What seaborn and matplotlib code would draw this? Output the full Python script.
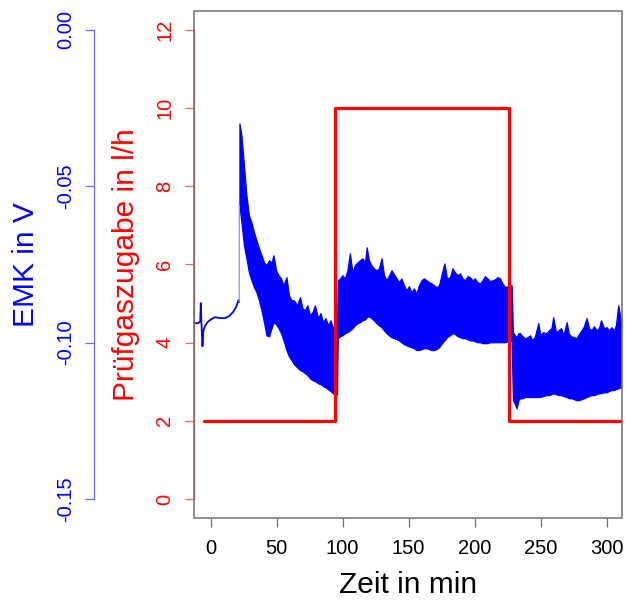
import matplotlib
matplotlib.use("Agg")
import matplotlib.pyplot as plt
from matplotlib.patches import Rectangle
import numpy as np
import pandas as pd
import seaborn as sns

sns.set_theme(style="white")
plt.rcParams["font.family"] = ["Liberation Sans", "DejaVu Sans"]
plt.rcParams["axes.unicode_minus"] = False

# Prüfgaszugabe (test gas feed) in l/h, step profile
gas_t = [-5.0, 94.5, 226.2, 315.0]
gas_rate = [2, 10, 2, 2]

# EMK before the gas switch-on: single slow trace (min, V)
emk0_t = [-12.1, -9.6, -7.9, -7.5, -7.0, -6.2, -5.5, -4.3, -2.4, 0.2, 3.3, 7.0,
          10.8, 13.9, 16.9, 19.2, 21.1, 21.6]
emk0_v = [-0.0938, -0.0938, -0.0932, -0.0874, -0.0935, -0.1012, -0.0961, -0.0948,
          -0.0935, -0.0926, -0.0919, -0.0922, -0.0922, -0.0916, -0.0903, -0.0887,
          -0.0865, -0.0871]

# sparse samples across the jump at switch-on
jump_t = [21.6, 21.7]
jump_v = [-0.0871, -0.0562]

# EMK noise band, phase 1 (2 l/h): time, upper and lower envelope
emk1_t = [21.8, 23.3, 25.2, 27.1, 29.0, 30.9, 32.8, 34.7, 36.6, 38.5, 40.4, 42.3,
          44.2, 46.1, 47.6, 49.5, 51.4, 53.3, 55.2, 57.4, 59.3, 61.2, 63.1, 65.4,
          67.7, 69.5, 71.4, 73.3, 75.2, 77.1, 79.0, 81.3, 83.2, 85.1, 87.0, 88.9,
          90.8, 92.7, 94.5, 95.7]
emk1_hi = [-0.0300, -0.0338, -0.0434, -0.0530, -0.0594, -0.0616, -0.0648, -0.0673,
           -0.0699, -0.0721, -0.0744, -0.0753, -0.0737, -0.0744, -0.0721, -0.0769,
           -0.0785, -0.0795, -0.0817, -0.0791, -0.0849, -0.0865, -0.0865, -0.0881,
           -0.0855, -0.0890, -0.0897, -0.0881, -0.0913, -0.0903, -0.0881, -0.0922,
           -0.0906, -0.0935, -0.0922, -0.0945, -0.0929, -0.0954, -0.0945, -0.0961]
emk1_lo = [-0.0562, -0.0616, -0.0689, -0.0731, -0.0776, -0.0801, -0.0823, -0.0839,
           -0.0865, -0.0897, -0.0935, -0.0977, -0.0980, -0.0954, -0.0935, -0.0941,
           -0.0954, -0.0970, -0.0993, -0.1024, -0.1044, -0.1056, -0.1069, -0.1079,
           -0.1088, -0.1091, -0.1098, -0.1104, -0.1114, -0.1120, -0.1123, -0.1130,
           -0.1133, -0.1139, -0.1143, -0.1149, -0.1155, -0.1162, -0.1168, -0.1165]

# EMK noise band, phase 2 (10 l/h)
emk2_t = [96.3, 98.0, 99.8, 101.7, 103.6, 105.5, 107.4, 109.3, 111.2, 113.1, 115.0,
          116.9, 118.2, 119.9, 121.8, 123.7, 125.6, 127.5, 129.5, 131.3, 133.2,
          135.1, 137.0, 138.9, 140.8, 142.7, 144.5, 146.4, 148.3, 150.2, 152.1,
          154.0, 155.9, 157.8, 159.7, 161.6, 163.5, 165.4, 167.3, 169.2, 171.1,
          173.0, 174.8, 177.1, 179.0, 181.3, 183.2, 185.1, 187.0, 188.9, 190.8,
          192.7, 194.5, 196.4, 198.3, 200.2, 202.1, 204.0, 205.9, 207.8, 209.7,
          211.6, 213.5, 215.4, 217.3, 219.2, 221.1, 223.0, 224.8, 226.7, 228.0]
emk2_hi = [-0.0801, -0.0795, -0.0785, -0.0795, -0.0769, -0.0715, -0.0776, -0.0753,
           -0.0744, -0.0737, -0.0731, -0.0744, -0.0696, -0.0737, -0.0753, -0.0763,
           -0.0769, -0.0763, -0.0731, -0.0785, -0.0801, -0.0785, -0.0769, -0.0782,
           -0.0795, -0.0807, -0.0795, -0.0817, -0.0833, -0.0820, -0.0839, -0.0827,
           -0.0843, -0.0817, -0.0801, -0.0795, -0.0801, -0.0807, -0.0811, -0.0817,
           -0.0823, -0.0817, -0.0785, -0.0747, -0.0795, -0.0791, -0.0763, -0.0776,
           -0.0785, -0.0779, -0.0795, -0.0801, -0.0788, -0.0791, -0.0801, -0.0795,
           -0.0807, -0.0811, -0.0801, -0.0788, -0.0795, -0.0804, -0.0801, -0.0798,
           -0.0791, -0.0795, -0.0811, -0.0823, -0.0820, -0.0817, -0.0817]
emk2_lo = [-0.0986, -0.0980, -0.0977, -0.0970, -0.0967, -0.0961, -0.0954, -0.0945,
           -0.0938, -0.0935, -0.0929, -0.0926, -0.0919, -0.0916, -0.0922, -0.0929,
           -0.0938, -0.0945, -0.0951, -0.0961, -0.0970, -0.0977, -0.0983, -0.0986,
           -0.0989, -0.0993, -0.0999, -0.1005, -0.1009, -0.1012, -0.1015, -0.1018,
           -0.1024, -0.1024, -0.1021, -0.1018, -0.1018, -0.1021, -0.1024, -0.1024,
           -0.1021, -0.1015, -0.1005, -0.0993, -0.0983, -0.0977, -0.0970, -0.0973,
           -0.0980, -0.0983, -0.0986, -0.0986, -0.0989, -0.0993, -0.0993, -0.0996,
           -0.0999, -0.0999, -0.1002, -0.1002, -0.1002, -0.0999, -0.0999, -0.0999,
           -0.0999, -0.0999, -0.0999, -0.0999, -0.0996, -0.0993, -0.0996]

# EMK noise band, phase 3 (back to 2 l/h)
emk3_t = [229.0, 230.5, 231.8, 233.2, 234.3, 236.2, 238.1, 240.0, 241.9, 243.8,
          245.7, 248.2, 249.8, 251.7, 254.4, 256.3, 258.2, 259.5, 261.6, 263.5,
          265.4, 267.3, 269.7, 271.4, 273.3, 275.2, 277.1, 279.0, 280.9, 282.8,
          284.8, 286.6, 288.5, 290.4, 292.3, 294.2, 295.7, 298.0, 300.0, 301.7,
          303.6, 305.5, 307.0, 308.8, 310.8]
emk3_hi = [-0.0967, -0.0977, -0.0983, -0.0970, -0.0970, -0.0980, -0.0986, -0.0983,
           -0.0977, -0.0993, -0.0980, -0.0938, -0.0977, -0.0967, -0.0970, -0.0961,
           -0.0954, -0.0919, -0.0967, -0.0961, -0.0954, -0.0977, -0.0935, -0.0973,
           -0.0980, -0.0983, -0.0986, -0.0973, -0.0961, -0.0948, -0.0922, -0.0954,
           -0.0961, -0.0948, -0.0961, -0.0954, -0.0929, -0.0954, -0.0951, -0.0961,
           -0.0951, -0.0961, -0.0945, -0.0881, -0.0929]
emk3_lo = [-0.1184, -0.1197, -0.1210, -0.1184, -0.1178, -0.1178, -0.1174, -0.1174,
           -0.1174, -0.1174, -0.1174, -0.1174, -0.1174, -0.1171, -0.1168, -0.1168,
           -0.1165, -0.1162, -0.1165, -0.1168, -0.1168, -0.1171, -0.1174, -0.1178,
           -0.1178, -0.1181, -0.1184, -0.1184, -0.1181, -0.1178, -0.1174, -0.1171,
           -0.1168, -0.1168, -0.1165, -0.1162, -0.1162, -0.1159, -0.1159, -0.1155,
           -0.1152, -0.1152, -0.1149, -0.1146, -0.1143]

emk_ticks = [-0.15, -0.10, -0.05, 0.00]
gas_ticks = [0, 2, 4, 6, 8, 10, 12]
time_ticks = [0, 50, 100, 150, 200, 250, 300]

BLUE = "#0000ff"
RED = "#ff0000"
BOX = "#6f6f6f"
TICK_FS = 14.5
LABEL_FS = 21.5

fig = plt.figure(figsize=(6.26, 6.06), dpi=100)
ax = fig.add_axes([194.3 / 626, 88 / 606, 427.4 / 626, 507.4 / 606])
ax2 = ax.twinx()

# EMK trace on the blue scale
band = pd.DataFrame({
    "t": emk1_t + emk2_t + emk3_t,
    "hi": emk1_hi + emk2_hi + emk3_hi,
    "lo": emk1_lo + emk2_lo + emk3_lo,
})
ax.fill_between(band["t"], band["lo"], band["hi"], color=BLUE, lw=0.9,
                edgecolor=BLUE, zorder=2)
sns.lineplot(x=emk0_t, y=emk0_v, ax=ax, color=BLUE, lw=1.3, sort=False,
             estimator=None, zorder=3)
sns.lineplot(x=jump_t, y=jump_v, ax=ax, color="#8c8cff", lw=0.9, sort=False,
             estimator=None, zorder=3)

# gas feed step on the red scale
sns.lineplot(x=gas_t, y=gas_rate, ax=ax2, color=RED, lw=2.3,
             drawstyle="steps-post", estimator=None, zorder=4)

ax.set_xlim(-12.4, 311.4)
ax.set_ylim(-0.15606, 0.00606)
ax2.set_ylim(-0.485, 12.485)

for a in (ax, ax2):
    for s in a.spines.values():
        s.set_visible(False)
    a.grid(False)

# plot frame
ax2.add_patch(Rectangle((0, 0), 1, 1, transform=ax2.transAxes, fill=False,
                        edgecolor=BOX, lw=1.1, clip_on=False, zorder=5))

# x axis
ax.set_xticks(time_ticks)
ax.set_xticklabels([str(v) for v in time_ticks])
ax.tick_params(axis="x", direction="out", length=6.5, width=0.9, color=BOX,
               labelsize=TICK_FS, labelcolor="black", pad=8.5, bottom=True)
ax.set_xlabel("Zeit in min", fontsize=LABEL_FS, color="black")
ax.xaxis.set_label_coords(0.5, -0.104)

# blue EMK axis, offset to the left
ax.spines["left"].set_visible(True)
ax.spines["left"].set_position(("axes", -0.234))
ax.spines["left"].set_bounds(-0.15, 0.0)
ax.spines["left"].set_color("#6a6aff")
ax.spines["left"].set_linewidth(0.9)
ax.yaxis.set_ticks_position("left")
ax.set_yticks(emk_ticks)
ax.set_yticklabels([f"{v:.2f}" for v in emk_ticks])
ax.tick_params(axis="y", direction="out", length=6.5, width=0.9, color="#6a6aff",
               labelsize=TICK_FS, labelcolor=BLUE, pad=7, left=True)
for lbl in ax.get_yticklabels():
    lbl.set_rotation(90)
    lbl.set_va("center")
ax.set_ylabel("EMK in V", fontsize=LABEL_FS, color=BLUE)
ax.yaxis.set_label_coords(-0.362, 0.5)

# red gas-feed axis on the frame
ax2.spines["left"].set_visible(True)
ax2.spines["left"].set_bounds(0, 12)
ax2.spines["left"].set_color("#e05a5a")
ax2.spines["left"].set_linewidth(1.0)
ax2.yaxis.set_ticks_position("left")
ax2.yaxis.set_label_position("left")
ax2.set_yticks(gas_ticks)
ax2.set_yticklabels([str(v) for v in gas_ticks])
ax2.tick_params(axis="y", direction="out", length=6.5, width=0.9, color="#ff6060",
                labelsize=TICK_FS, labelcolor=RED, pad=8, left=True, right=False)
for lbl in ax2.get_yticklabels():
    lbl.set_rotation(90)
    lbl.set_va("center")
ax2.set_ylabel("Prüfgaszugabe in l/h", fontsize=LABEL_FS, color=RED)
ax2.yaxis.set_label_coords(-0.128, 0.5)

fig.savefig("out.png", dpi=100, facecolor="white")
